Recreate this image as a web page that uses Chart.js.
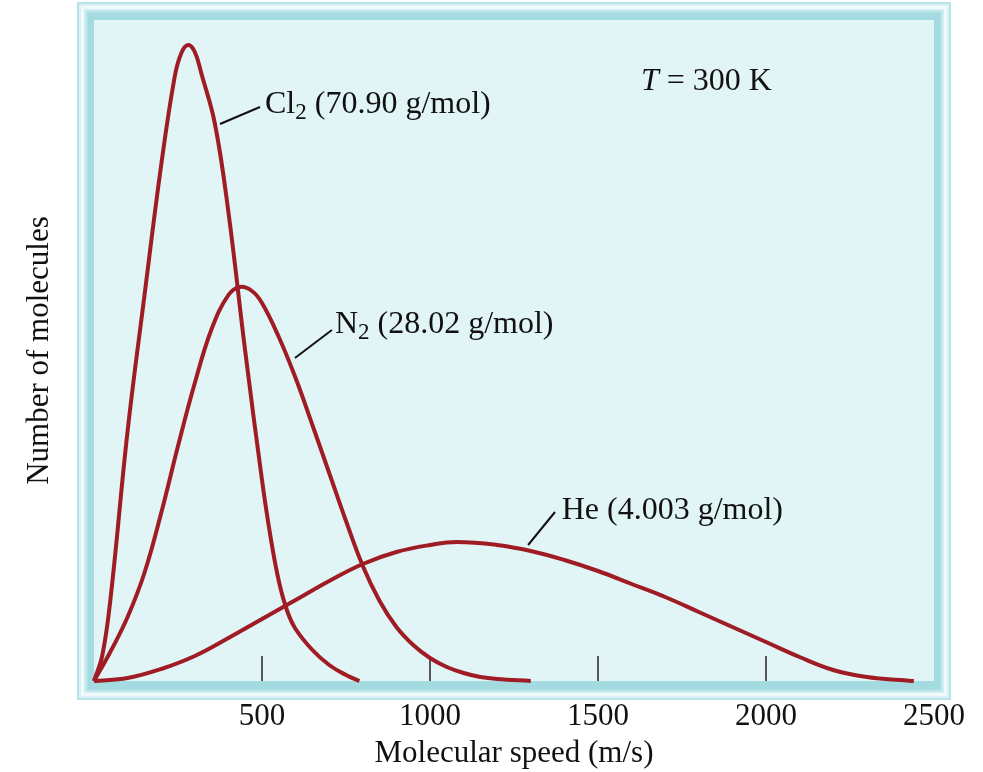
<!DOCTYPE html>
<html>
<head>
<meta charset="utf-8">
<title>Molecular speed distribution</title>
<script src="https://cdn.jsdelivr.net/npm/chart.js@4.4.1/dist/chart.umd.min.js"></script>
<style>
  html, body { margin: 0; padding: 0; background: #fff; }
</style>
</head>
<body>
<canvas id="speedChart" width="983" height="772"></canvas>
<script>
/* data (speed in m/s, relative number of molecules) */
const cl2Speed = [0, 25, 50, 100, 150, 200, 240, 260, 280, 300, 320, 360, 400, 450, 500, 525, 550, 575, 600, 650, 700, 750, 790];
const cl2Count = [0, 26, 85, 250, 385, 516, 604, 628, 636, 629, 607, 557, 469, 330, 201, 145, 100, 70, 52, 31, 16, 6, 0];

const n2Speed = [0, 50, 100, 150, 200, 250, 300, 350, 400, 435, 470, 500, 550, 600, 650, 700, 750, 800, 850, 900, 950, 1000, 1050, 1100, 1150, 1200, 1300];
const n2Count = [0, 30, 64, 108, 168, 235, 298, 352, 386, 394, 390, 378, 344, 303, 256, 208, 160, 115, 80, 54, 36, 23, 14, 8, 4, 2, 0];

const heSpeed = [0, 100, 200, 300, 400, 500, 600, 700, 800, 900, 1000, 1080, 1200, 1300, 1400, 1500, 1600, 1700, 1800, 1900, 2000, 2100, 2200, 2300, 2400, 2440];
const heCount = [0, 3, 12, 25, 43, 62, 81, 100, 117, 129, 136, 139, 136, 130, 121, 110, 97, 84, 69, 54, 39, 24, 11, 4, 1, 0];

const xTicks = [500, 1000, 1500, 2000, 2500];

const toPoints = (xs, ys) => xs.map((x, i) => ({ x: x, y: ys[i] }));

const CURVE = "#a01c24";
const SERIF = "'Liberation Serif', 'Times New Roman', serif";

/* labels with leader lines, in data units */
const notes = [
  { main: "Cl", sub: "2", rest: " (70.90 g/mol)", x: 509, y: 568, line: [[375, 557], [494, 574]] },
  { main: "N", sub: "2", rest: " (28.02 g/mol)", x: 717, y: 348, line: [[598, 323], [708, 351]] },
  { main: "He (4.003 g/mol)", sub: "", rest: "", x: 1392, y: 162, line: [[1292, 136], [1372, 169]] }
];

/* frame around the plot */
const framePlugin = {
  id: "frame",
  beforeDraw(chart) {
    const { ctx, chartArea: a } = chart;
    const L = a.left - 17, T = a.top - 18, R = a.right + 17, B = a.bottom + 19;
    const bands = [
      [0, "#b8e4e9"],
      [2, "#d8f1f4"],
      [4, "#f0fafb"],
      [7, "#d0eef1"],
      [9, "#b2e1e6"],
      [11, "#a4dbe1"]
    ];
    ctx.save();
    bands.forEach(([d, c]) => {
      ctx.fillStyle = c;
      ctx.fillRect(L + d, T + d, R - L - 2 * d, B - T - 2 * d);
    });
    ctx.fillStyle = "#e1f4f6";
    ctx.fillRect(a.left, a.top, a.width, a.height);
    ctx.restore();
  },
  beforeDatasetsDraw(chart) {
    const { ctx, chartArea: a, scales: { x } } = chart;
    ctx.save();
    ctx.strokeStyle = "#555";
    ctx.lineWidth = 2;
    ctx.beginPath();
    x.ticks.forEach(t => {
      if (t.value <= x.min || t.value >= x.max) return;
      const px = Math.round(x.getPixelForValue(t.value));
      ctx.moveTo(px, a.bottom);
      ctx.lineTo(px, a.bottom - 25);
    });
    ctx.stroke();
    ctx.restore();
  }
};

/* curve labels and the temperature */
const notesPlugin = {
  id: "notes",
  afterDatasetsDraw(chart) {
    const { ctx, scales: { x, y } } = chart;
    ctx.save();
    ctx.fillStyle = "#111";
    ctx.strokeStyle = "#111";
    ctx.lineWidth = 2;
    ctx.textBaseline = "alphabetic";
    ctx.textAlign = "left";

    notes.forEach(n => {
      ctx.beginPath();
      ctx.moveTo(x.getPixelForValue(n.line[0][0]), y.getPixelForValue(n.line[0][1]));
      ctx.lineTo(x.getPixelForValue(n.line[1][0]), y.getPixelForValue(n.line[1][1]));
      ctx.stroke();

      let px = x.getPixelForValue(n.x);
      const py = y.getPixelForValue(n.y);
      ctx.font = "32px " + SERIF;
      ctx.fillText(n.main, px, py);
      px += ctx.measureText(n.main).width;
      if (n.sub) {
        ctx.font = "23px " + SERIF;
        ctx.fillText(n.sub, px, py + 6);
        px += ctx.measureText(n.sub).width;
        ctx.font = "32px " + SERIF;
        ctx.fillText(n.rest, px, py);
      }
    });

    let tx = x.getPixelForValue(1628);
    const ty = y.getPixelForValue(591);
    ctx.font = "italic 32px " + SERIF;
    ctx.fillText("T", tx, ty);
    tx += ctx.measureText("T").width;
    ctx.font = "32px " + SERIF;
    ctx.fillText(" = 300 K", tx, ty);
    ctx.restore();
  }
};

const curve = (label, xs, ys) => ({
  label: label,
  data: toPoints(xs, ys),
  borderColor: CURVE,
  borderWidth: 4,
  pointRadius: 0,
  fill: false,
  tension: 0.4,
  clip: false
});

new Chart(document.getElementById("speedChart"), {
  type: "line",
  data: {
    datasets: [
      curve("Cl2", cl2Speed, cl2Count),
      curve("N2", n2Speed, n2Count),
      curve("He", heSpeed, heCount)
    ]
  },
  options: {
    responsive: false,
    animation: false,
    layout: { padding: { top: 20, right: 49, left: 0, bottom: 0 } },
    plugins: {
      legend: { display: false },
      tooltip: { enabled: false }
    },
    scales: {
      x: {
        type: "linear",
        min: 0,
        max: 2500,
        afterBuildTicks: s => { s.ticks = [0].concat(xTicks).map(v => ({ value: v })); },
        afterFit: s => { s.height = 91; },
        grid: { display: false, drawTicks: false },
        border: { display: false },
        ticks: {
          padding: 17,
          color: "#111",
          font: { family: SERIF, size: 31 },
          maxRotation: 0,
          callback: v => (v === 0 ? "" : v)
        },
        title: {
          display: true,
          text: "Molecular speed (m/s)",
          color: "#111",
          font: { family: SERIF, size: 31 },
          padding: { top: 0, bottom: 0 }
        }
      },
      y: {
        min: 0,
        max: 661,
        afterFit: s => { s.width = 94; },
        grid: { display: false, drawTicks: false },
        border: { display: false },
        ticks: { display: false },
        title: {
          display: true,
          text: "Number of molecules",
          color: "#111",
          font: { family: SERIF, size: 31 },
          padding: { top: 21, bottom: 0 }
        }
      }
    }
  },
  plugins: [framePlugin, notesPlugin]
});
</script>
</body>
</html>
